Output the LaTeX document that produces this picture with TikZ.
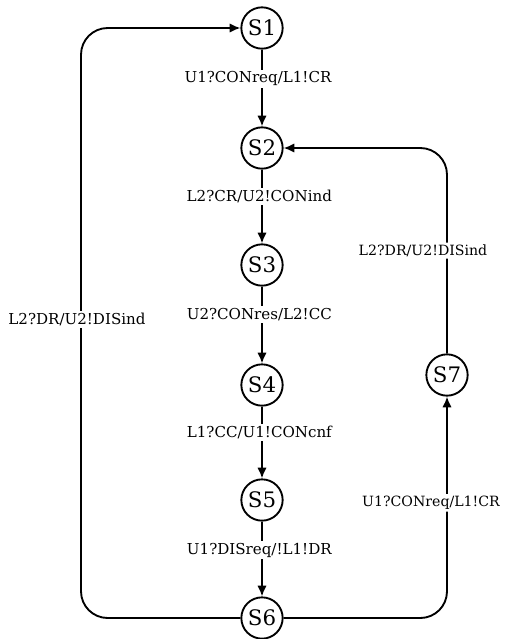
\documentclass[tikz,border=0pt]{standalone}
\usepackage{fontspec}
\setmainfont{DejaVu Serif}
\usetikzlibrary{arrows.meta}
\begin{document}
\begin{tikzpicture}[x=0.75pt,y=-0.75pt,
  state/.style={circle,draw,line width=1.4pt,minimum size=31pt,inner sep=0pt,font=\fontsize{16}{16}\selectfont},
  tr/.style={line width=1.4pt,-{Latex[length=8pt,width=7pt]}},
  lab/.style={fill=white,inner sep=1.5pt,font=\fontsize{11.3}{13}\selectfont},
  rlab/.style={lab,font=\fontsize{10.6}{12}\selectfont}]
\useasboundingbox (0,0) rectangle (510,639);
\node[state] (s1) at (262,28) {S1};
\node[state] (s2) at (262,148) {S2};
\node[state] (s3) at (262,265) {S3};
\node[state] (s4) at (262,385) {S4};
\node[state] (s5) at (262,500) {S5};
\node[state] (s6) at (262,618) {S6};
\node[state] (s7) at (447,375) {S7};
\coordinate (lb) at (81,618);
\coordinate (lt) at (81,28);
\coordinate (rb) at (447,618);
\coordinate (rt) at (447,148);
\draw[tr] (s1) -- node[lab,pos=0.38,xshift=-3] {U1?CONreq/L1!CR} (s2);
\draw[tr] (s2) -- node[lab,pos=0.36,xshift=-2] {L2?CR/U2!CONind} (s3);
\draw[tr] (s3) -- node[lab,pos=0.36,xshift=-2] {U2?CONres/L2!CC} (s4);
\draw[tr] (s4) -- node[lab,pos=0.36,xshift=-2] {L1?CC/U1!CONcnf} (s5);
\draw[tr] (s5) -- node[lab,pos=0.38,xshift=-2] {U1?DISreq/!L1!DR} (s6);
\draw[tr,rounded corners=20] (s6) -- (lb) -- node[lab,pos=0.506,xshift=-3] {L2?DR/U2!DISind} (lt) -- (s1);
\draw[tr,rounded corners=20] (s6) -- (rb) -- node[rlab,pos=0.52,xshift=-12] {U1?CONreq/L1!CR} (s7);
\draw[tr,rounded corners=20] (s7) -- node[rlab,pos=0.5,xshift=-18] {L2?DR/U2!DISind} (rt) -- (s2);
\end{tikzpicture}
\end{document}
